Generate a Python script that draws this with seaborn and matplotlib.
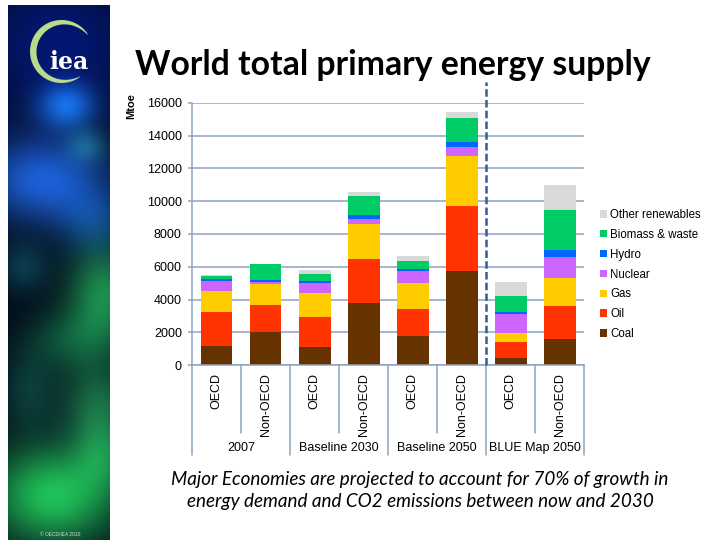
import numpy as np
import pandas as pd
import matplotlib
matplotlib.use("Agg")
import matplotlib.pyplot as plt
import seaborn as sns
from matplotlib.patches import Patch, Polygon

# ---------------- data (Mtoe) ----------------
groups = ["2007", "Baseline 2030", "Baseline 2050", "BLUE Map 2050"]
regions = ["OECD", "Non-OECD"] * 4
coal = [1150, 2010, 1100, 3780, 1810, 5750, 470, 1580]
oil = [2120, 1640, 1860, 2700, 1600, 3930, 930, 2030]
gas = [1260, 1280, 1440, 2130, 1600, 3090, 550, 1710]
nuclear = [610, 130, 630, 300, 740, 510, 1200, 1300]
hydro = [100, 140, 110, 270, 140, 340, 120, 400]
biomass = [200, 950, 440, 1150, 460, 1440, 950, 2440]
other = [50, 40, 230, 210, 330, 350, 860, 1500]
series_names = ["Coal", "Oil", "Gas", "Nuclear", "Hydro", "Biomass & waste", "Other renewables"]
series_colors = ["#663300", "#FF3300", "#FFCC00", "#CC66FF", "#0066FF", "#00CC66", "#D9D9D9"]
y_ticks = [0, 2000, 4000, 6000, 8000, 10000, 12000, 14000, 16000]
title = "World total primary energy supply"
note = ["Major Economies are projected to account for 70% of growth in",
        "energy demand and CO2 emissions between now and 2030"]

sns.set_theme(style="white")
plt.rcParams["font.family"] = ["Liberation Sans", "DejaVu Sans"]
plt.rcParams["text.color"] = "black"
plt.rcParams["axes.labelcolor"] = "black"
plt.rcParams["xtick.color"] = "black"
plt.rcParams["ytick.color"] = "black"

W, H = 703, 543
fig = plt.figure(figsize=(W / 100, H / 100), dpi=100)
fig.patch.set_facecolor("white")

# ---------------- decorative left panel ----------------
pan = fig.add_axes([8 / W, 1 - 540 / H, 102 / W, 535 / H])
ny, nx = 535, 102
yy, xx = np.mgrid[0:ny, 0:nx]
img = np.zeros((ny, nx, 3))
img[:] = (0.01, 0.04, 0.10)
blobs = [
    (50, 40, 60, 55, (0.0, 0.05, 0.35), 1.0),
    (58, 100, 20, 16, (0.10, 0.45, 0.75), 0.8),
    (35, 175, 45, 30, (0.10, 0.33, 0.72), 1.0),
    (85, 215, 25, 22, (0.05, 0.28, 0.55), 0.6),
    (78, 140, 14, 12, (0.10, 0.40, 0.30), 0.6),
    (95, 290, 25, 35, (0.10, 0.50, 0.20), 1.0),
    (15, 262, 18, 18, (0.05, 0.30, 0.30), 0.6),
    (60, 335, 30, 22, (0.05, 0.35, 0.15), 0.7),
    (90, 400, 25, 30, (0.10, 0.45, 0.20), 0.8),
    (20, 385, 20, 28, (0.05, 0.30, 0.20), 0.6),
    (45, 490, 45, 35, (0.10, 0.65, 0.22), 1.1),
    (95, 450, 20, 25, (0.10, 0.50, 0.20), 0.6),
]
for cx, cy, sx, sy, col, w in blobs:
    g = w * np.exp(-((xx - cx) ** 2 / (2 * sx ** 2) + (yy - cy) ** 2 / (2 * sy ** 2)))
    img += g[..., None] * np.array(col)
img = np.clip(img, 0, 1)
pan.imshow(img, extent=(0, nx, 0, ny), origin="upper", aspect="auto", interpolation="bilinear")
pan.set_xlim(0, nx)
pan.set_ylim(0, ny)
pan.axis("off")
# logo crescent
c0 = np.array([53.5, 488.5])
th = np.radians(np.linspace(33, 306, 120))
r_out = 31.5
thick = 6.0 * np.sin(np.linspace(0, np.pi, 120)) ** 0.8 + 0.5
outer = np.c_[c0[0] + r_out * np.cos(th), c0[1] + r_out * np.sin(th)]
inner = np.c_[c0[0] + (r_out - thick) * np.cos(th), c0[1] + (r_out - thick) * np.sin(th)][::-1]
pan.add_patch(Polygon(np.r_[outer, inner], closed=True, fc="#B9DB8C", ec="none"))
pan.text(61, 478, "iea", color="white", fontsize=17, fontweight="bold",
         family="DejaVu Serif", ha="center", va="center")
pan.text(52, 5, "© OECD/IEA 2010", color="#DDDDDD", fontsize=3.5, ha="center", va="center")

# ---------------- main chart ----------------
ax = fig.add_axes([192 / W, 1 - 365.3 / H, 392.3 / W, 262.6 / H])
pos = [str(i) for i in range(len(regions))]
values = np.array([coal, oil, gas, nuclear, hydro, biomass, other], dtype=float)
cum = np.cumsum(values, axis=0)
df = pd.DataFrame({"pos": pos})
for i, name in enumerate(series_names):
    df[name] = cum[i]
for i in reversed(range(len(series_names))):
    sns.barplot(data=df, x="pos", y=series_names[i], order=pos, color=series_colors[i],
                saturation=1, width=0.65, errorbar=None, linewidth=0, ax=ax, zorder=2)

grid_c = "#8FA3C3"
ax.set_axisbelow(True)
ax.set_xlim(-0.5, 7.5)
ax.set_ylim(0, 16000)
ax.set_yticks(y_ticks)
ax.set_yticklabels([str(t) for t in y_ticks])
ax.yaxis.grid(True, color=grid_c, lw=1.1)
ax.xaxis.grid(False)
ax.set_xlabel("")
ax.set_ylabel("")
for s in ["top", "right"]:
    ax.spines[s].set_visible(False)
for s in ["left", "bottom"]:
    ax.spines[s].set_color(grid_c)
    ax.spines[s].set_linewidth(1.1)
ax.tick_params(axis="y", length=3, width=1.1, color=grid_c, pad=4.3, labelsize=9,
               labelcolor="black", left=True)
ax.set_xticks(range(len(regions)))
ax.set_xticklabels(regions, rotation=90, va="top", ha="center", fontsize=9, color="black")
ax.tick_params(axis="x", length=0, pad=5.8)

# hierarchical axis dividers and group labels
tr = ax.get_xaxis_transform()
for x in [0.5, 2.5, 4.5, 6.5]:
    ax.plot([x, x], [0, -0.257], transform=tr, color=grid_c, lw=1.1, clip_on=False)
for x in [-0.5, 1.5, 3.5, 5.5, 7.5]:
    ax.plot([x, x], [0, -0.34], transform=tr, color=grid_c, lw=1.1, clip_on=False)
for j, gname in enumerate(groups):
    ax.text(2 * j + 0.5, -0.315, gname, transform=tr, ha="center", va="center",
            fontsize=9, color="black")

# dashed separator
ax.plot([5.5, 5.5], [0, 1.079], transform=tr, color="#2F5F97", lw=1.8,
        ls=(0, (3, 1.3)), clip_on=False, zorder=5)

# y label
fig.text(131 / W, 1 - 106 / H, "Mtoe", rotation=90, fontsize=8, fontweight="bold",
         ha="center", va="center", color="black")

# legend
handles = [Patch(facecolor=series_colors[i], edgecolor="none", label=series_names[i])
           for i in reversed(range(len(series_names)))]
fig.legend(handles=handles, loc="upper left", bbox_to_anchor=(600 / W, 1 - 209 / H),
           bbox_transform=fig.transFigure, frameon=False, fontsize=8.3,
           handlelength=0.6, handleheight=0.6, handletextpad=0.3,
           labelspacing=0.68, borderpad=0, borderaxespad=0, labelcolor="black")

# title and footnote (fit widths)
renderer = fig.canvas.get_renderer()
t = fig.text((135 + 650) / 2 / W, 1 - 65 / H, title, fontsize=22, fontweight="bold",
             family=["Lato", "DejaVu Sans"], ha="center", va="center", color="black")
wpx = t.get_window_extent(renderer).width
t.set_fontsize(22 * 515 / wpx)

n1 = fig.text(420 / W, 1 - 479 / H, note[0], fontsize=12, style="italic",
              family=["Lato", "DejaVu Sans"], ha="center", va="center", color="black")
wpx = n1.get_window_extent(renderer).width
fs = 12 * 496 / wpx
n1.set_fontsize(fs)
fig.text(420 / W, 1 - 502 / H, note[1], fontsize=fs, style="italic",
         family=["Lato", "DejaVu Sans"], ha="center", va="center", color="black")

fig.savefig("out.png", dpi=100)
